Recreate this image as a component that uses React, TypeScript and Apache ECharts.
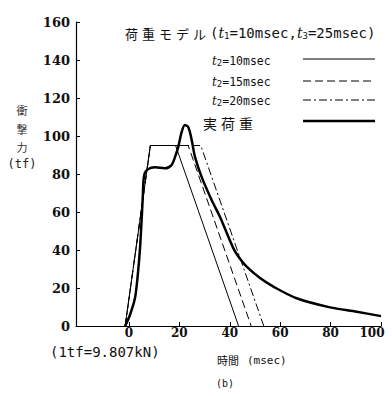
import React, { useEffect, useRef } from "react";
import * as echarts from "echarts";

const xTickValues = [0, 20, 40, 60, 80, 100];
const yTickValues = [0, 20, 40, 60, 80, 100, 120, 140, 160];

const model10: number[][] = [[-1.5, 0], [8.5, 95], [18.5, 95], [43.5, 0]];
const model15: number[][] = [[-1.5, 0], [8.5, 95], [23.5, 95], [48.5, 0]];
const model20: number[][] = [[-1.5, 0], [8.5, 95], [28.5, 95], [53.5, 0]];

const actualLoad: number[][] = [
  [-1.5, 0], [0.4, 5.8], [2.4, 14.7], [3.5, 26.8], [4.4, 41], [5.0, 55], [5.5, 68], [5.8, 77],
  [6.3, 80.5], [7.5, 82.5], [10.3, 83.5], [14.3, 83], [16.9, 84.7], [18.3, 89], [19.6, 94.4],
  [20.9, 102], [22.2, 105.8], [23.6, 104.5], [24.9, 97.9], [26.2, 89], [28.8, 78.6],
  [32.8, 66.3], [36.1, 57.5], [41.4, 41], [44, 35.5], [46.7, 31.2], [52, 25.2], [57.3, 20.7],
  [66.5, 14.6], [79.8, 9.8], [90.4, 7.5], [100, 5.2],
];

const seriesNames = ["t2=10msec", "t2=15msec", "t2=20msec", "実荷重"];
const legendT2 = ["10", "15", "20"];
const titleJp = "荷重モデル";

const MONO = "DejaVu Sans Mono";
const SERIF = "DejaVu Serif";
const JP = "Noto Sans CJK JP";

const dashStyles: any[] = ["solid", [8, 4], [8, 3, 2, 3]];

export default function App() {
  const ref = useRef<HTMLDivElement>(null);
  useEffect(() => {
    if (!ref.current) return;
    const chart = echarts.init(ref.current, undefined, { renderer: "svg" });

    const richCommon = {
      n: { fontFamily: MONO, fontSize: 14, fill: "#111" },
      jp: { fontFamily: JP, fontSize: 13, fill: "#111", padding: [0, 4, 0, 0] },
      it: { fontFamily: SERIF, fontStyle: "italic", fontSize: 14, fill: "#111" },
      sub: { fontFamily: MONO, fontSize: 9, fill: "#111", verticalAlign: "bottom" },
      n2: { fontFamily: MONO, fontSize: 11.5, fill: "#111" },
      it2: { fontFamily: SERIF, fontStyle: "italic", fontSize: 12, fill: "#111" },
      sub2: { fontFamily: MONO, fontSize: 9, fill: "#111", verticalAlign: "bottom" },
    };

    const legendRowsY = [61, 82, 101];
    const legendLineY = [59, 81, 100];
    const jpTokens = titleJp.split("").map((c) => `{jp|${c}}`).join("");
    const graphic: any[] = [
      {
        type: "text",
        x: 125,
        y: 33,
        style: {
          text: `${jpTokens}{n|(}{it|t}{sub|1}{n|=10msec,}{it|t}{sub|3}{n|=25msec)}`,
          align: "left",
          verticalAlign: "middle",
          rich: richCommon,
        },
      },
    ];
    legendT2.forEach((v, i) => {
      graphic.push({
        type: "text",
        x: 212,
        y: legendRowsY[i],
        style: {
          text: `{it2|t}{sub2|2}{n2|=${v}msec}`,
          align: "left",
          verticalAlign: "middle",
          rich: richCommon,
        },
      });
      graphic.push({
        type: "line",
        shape: { x1: 303, y1: legendLineY[i], x2: 375, y2: legendLineY[i] },
        style: { stroke: "#000", lineWidth: 1, lineDash: dashStyles[i] === "solid" ? null : dashStyles[i] },
      });
    });
    graphic.push({
      type: "text",
      x: 203,
      y: 123,
      style: {
        text: "{a|実}{a|荷}{a|重}",
        align: "left",
        verticalAlign: "middle",
        rich: { a: { fontFamily: JP, fontSize: 14, fill: "#111", padding: [0, 4, 0, 0] } },
      },
    });
    graphic.push({
      type: "line",
      shape: { x1: 303, y1: 121, x2: 375, y2: 121 },
      style: { stroke: "#000", lineWidth: 2.5 },
    });
    // y axis name
    graphic.push({
      type: "text",
      x: 22,
      y: 101,
      style: {
        text: "衝\n撃\n力",
        fontFamily: JP,
        fontSize: 11,
        lineHeight: 18.5,
        fill: "#333",
        align: "center",
        verticalAlign: "top",
      },
    });
    graphic.push({
      type: "text",
      x: 22,
      y: 164,
      style: { text: "(tf)", fontFamily: MONO, fontSize: 12, fill: "#222", align: "center", verticalAlign: "middle" },
    });
    graphic.push({
      type: "text",
      x: 50,
      y: 352,
      style: { text: "(1tf=9.807kN)", fontFamily: MONO, fontSize: 14, fill: "#111", align: "left", verticalAlign: "middle" },
    });
    graphic.push({
      type: "text",
      x: 217,
      y: 360,
      style: { text: "時間", fontFamily: JP, fontSize: 11, fill: "#111", align: "left", verticalAlign: "middle" },
    });
    graphic.push({
      type: "text",
      x: 247,
      y: 360,
      style: { text: "(msec)", fontFamily: MONO, fontSize: 11, fill: "#111", align: "left", verticalAlign: "middle" },
    });
    graphic.push({
      type: "text",
      x: 225,
      y: 383,
      style: { text: "(b)", fontFamily: MONO, fontSize: 10, fill: "#111", align: "center", verticalAlign: "middle" },
    });

    const modelData = [model10, model15, model20];
    const series: any[] = modelData.map((d, i) => ({
      name: seriesNames[i],
      type: "line",
      data: d,
      symbol: "none",
      lineStyle: { color: "#000", width: 1, type: dashStyles[i] },
      z: 2,
    }));
    series.push({
      name: seriesNames[3],
      type: "line",
      data: actualLoad,
      symbol: "none",
      smooth: 0.3,
      lineStyle: { color: "#000", width: 2.5 },
      z: 3,
    });

    const labelStyle = {
      color: "#111",
      fontFamily: SERIF,
      fontWeight: "bold",
      fontSize: 12,
    };

    chart.setOption({
      animation: false,
      backgroundColor: "#fff",
      grid: { left: 76, right: 11, top: 22, bottom: 71, outerBoundsMode: "none" },
      xAxis: {
        type: "value",
        min: -21,
        max: 100,
        splitLine: { show: false },
        axisLine: { show: true, onZero: false, lineStyle: { color: "#000", width: 1.2 } },
        axisTick: { show: true, inside: true, length: 4, customValues: xTickValues, lineStyle: { color: "#000" } },
        axisLabel: {
          ...labelStyle,
          margin: 1,
          customValues: xTickValues,
          formatter: (v: number) => (v === 100 ? `{r|${v}}` : String(v)),
          rich: { r: { ...labelStyle, padding: [0, 18, 0, 0] } },
        },
      },
      yAxis: {
        type: "value",
        min: 0,
        max: 160,
        interval: 20,
        splitLine: { show: false },
        axisLine: { show: true, onZero: false, lineStyle: { color: "#000", width: 1.2 } },
        axisTick: { show: true, inside: true, length: 4, lineStyle: { color: "#000" } },
        axisLabel: { ...labelStyle, fontSize: 13, margin: 6, padding: [0, 0, 12, 0], verticalAlign: "middle" },
      },
      graphic,
      series,
    });
    return () => chart.dispose();
  }, []);
  return <div ref={ref} style={{ position: "fixed", left: 0, top: 0, width: 392, height: 397 }} />;
}
